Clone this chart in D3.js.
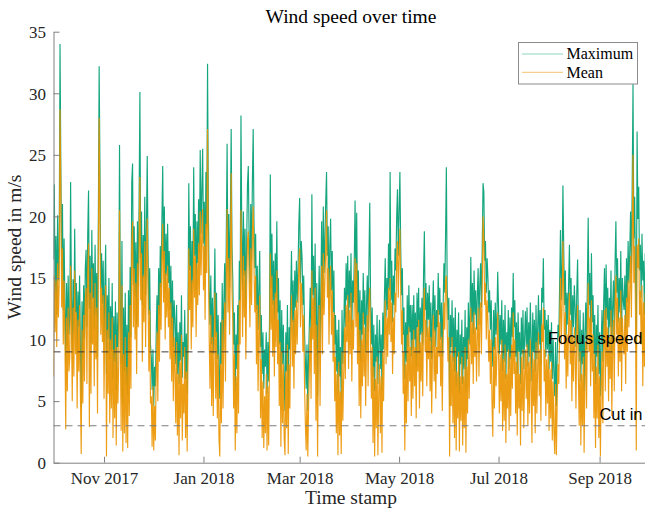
<!DOCTYPE html>
<html>
<head>
<meta charset="utf-8">
<script src="https://cdn.jsdelivr.net/npm/d3@7"></script>
<style>
  html, body { margin: 0; padding: 0; background: #fff; }
  svg { display: block; }
</style>
</head>
<body>
<svg id="chart" width="645" height="512"></svg>
<script>
// Wind speed, sampled every 12 hours from 1 Oct 2017 (m/s)
const seriesStart = "2017-10-01T00:00:00Z";
const stepHours = 12;

const maxSpeed = [
  16.5, 22.6, 13.2, 18.4, 12.0, 20.1, 14.8, 17.5, 34.0, 24.1, 15.6, 21.0, 12.4, 18.2, 13.0, 8.1, 14.6, 9.5, 15.2, 10.4,
  11.8, 22.8, 13.5, 9.2, 14.9, 10.6, 19.0, 12.2, 14.6, 8.8, 13.9, 11.0, 15.2, 9.6, 4.5, 13.1, 8.4, 14.4, 10.1, 15.8,
  17.3, 11.0, 18.6, 22.1, 12.5, 16.8, 9.7, 18.9, 13.3, 16.2, 10.8, 17.7, 12.0, 15.4, 8.6, 19.5, 32.2, 23.8, 14.1, 17.0,
  12.9, 16.4, 9.8, 14.2, 17.7, 7.2, 13.6, 10.1, 15.0, 8.4, 12.7, 9.0, 14.6, 6.8, 11.9, 8.2, 13.1, 5.9, 12.2, 9.4,
  11.6, 25.8, 13.4, 8.0, 18.0, 4.8, 12.6, 7.4, 13.8, 6.3, 11.2, 5.5, 14.0, 8.8, 15.9, 10.2, 22.8, 24.3, 14.4, 19.2,
  13.5, 17.9, 11.2, 19.6, 14.3, 21.0, 30.1, 16.6, 20.4, 12.8, 18.5, 15.0, 21.6, 13.6, 19.0, 24.9, 17.2, 12.0, 15.8, 9.6,
  8.6, 5.9, 9.2, 4.6, 7.8, 6.2, 10.4, 13.6, 9.5, 15.8, 12.0, 17.6, 14.2, 19.8, 24.1, 16.4, 20.8, 13.8, 18.6, 15.2,
  19.4, 14.6, 17.2, 12.4, 16.0, 10.8, 14.8, 9.4, 13.2, 11.6, 8.0, 12.8, 7.2, 10.6, 6.4, 11.4, 8.3, 13.6, 6.9, 9.8,
  8.6, 12.4, 6.8, 10.5, 5.6, 11.8, 22.7, 15.6, 19.2, 13.0, 18.0, 14.6, 24.0, 16.8, 20.2, 14.0, 19.6, 16.2, 21.4, 17.0,
  25.4, 18.6, 22.0, 25.5, 17.8, 21.2, 15.4, 23.6, 19.0, 32.4, 20.6, 14.0, 11.2, 15.2, 9.6, 13.4, 8.8, 12.6, 17.4, 10.2,
  13.8, 8.4, 12.0, 7.0, 5.2, 11.4, 8.0, 14.6, 9.2, 13.0, 16.2, 11.0, 18.4, 25.9, 15.6, 20.2, 14.2, 19.8, 27.1, 17.6,
  14.8, 9.6, 12.2, 5.8, 10.4, 7.6, 12.8, 9.0, 16.4, 13.2, 28.2, 18.8, 14.0, 20.4, 15.2, 19.0, 12.6, 17.8, 22.6, 24.1,
  18.2, 14.6, 21.0, 16.4, 22.8, 27.1, 19.4, 15.8, 18.6, 12.4, 16.0, 10.8, 14.2, 17.2, 9.4, 12.0, 7.2, 10.6, 6.0, 9.2,
  7.8, 10.6, 5.6, 9.8, 6.6, 11.4, 23.4, 14.2, 18.6, 12.8, 16.4, 11.6, 17.0, 13.4, 19.6, 12.2, 15.0, 9.6, 13.2, 6.0,
  12.4, 8.0, 11.2, 6.6, 4.2, 10.6, 7.4, 12.8, 4.4, 11.0, 9.2, 13.6, 17.2, 11.4, 14.8, 10.2, 15.6, 12.6, 16.4, 13.0,
  15.8, 19.4, 21.5, 14.6, 18.0, 16.6, 12.8, 15.2, 10.6, 8.4, 6.0, 9.6, 4.2, 8.8, 11.4, 14.2, 9.8, 21.8, 13.6, 16.8,
  11.2, 17.8, 8.6, 14.6, 5.4, 12.4, 16.0, 9.2, 14.0, 19.6, 12.6, 20.8, 15.4, 18.2, 21.2, 23.6, 16.8, 19.2, 13.4, 17.6,
  19.8, 14.0, 17.2, 12.2, 15.6, 9.6, 12.0, 7.4, 10.8, 5.6, 11.6, 7.0, 9.4, 4.8, 12.4, 8.0, 10.6, 14.2, 11.0, 16.2,
  13.2, 16.8, 11.4, 15.6, 12.6, 17.0, 10.8, 14.8, 13.0, 16.4, 21.3, 14.6, 20.3, 12.0, 15.6, 9.4, 14.0, 8.2, 13.2, 10.4,
  15.4, 11.2, 14.0, 9.0, 12.8, 15.2, 10.6, 16.4, 21.1, 13.4, 9.6, 12.6, 7.0, 11.2, 5.8, 10.4, 8.2, 12.0, 6.4, 9.6,
  11.6, 7.6, 10.4, 5.8, 12.2, 9.2, 13.4, 16.6, 11.8, 15.0, 12.4, 17.8, 14.0, 23.6, 13.2, 16.4, 11.4, 15.2, 12.8, 17.4,
  15.6, 19.8, 22.2, 16.8, 20.4, 23.6, 17.4, 13.6, 15.8, 10.4, 12.6, 6.8, 11.4, 8.2, 13.6, 9.4, 14.4, 10.6, 12.8, 8.6,
  12.8, 9.2, 13.6, 10.0, 12.2, 7.8, 13.8, 11.0, 14.2, 8.8, 12.6, 10.4, 13.4, 9.6, 15.2, 18.8, 12.4, 14.6, 10.2, 13.8,
  11.6, 14.4, 9.8, 13.0, 8.4, 12.2, 14.8, 10.6, 13.6, 9.4, 12.4, 11.0, 15.4, 12.0, 14.2, 10.0, 13.0, 8.6, 12.6, 16.2,
  13.8, 18.4, 24.0, 14.2, 11.6, 13.4, 4.6, 12.0, 9.4, 13.2, 8.2, 11.8, 7.4, 12.6, 6.2, 10.8, 8.6, 12.2, 5.6, 10.4,
  8.0, 11.6, 6.4, 10.2, 7.6, 12.4, 5.8, 11.0, 8.4, 13.0, 9.6, 12.2, 16.7, 11.4, 14.6, 10.4, 15.6, 12.0, 14.0, 10.8,
  13.6, 15.8, 11.2, 14.4, 16.2, 12.6, 17.4, 22.7, 22.0, 16.4, 18.0, 13.8, 16.6, 15.0, 12.2, 14.0, 10.8, 13.2, 9.6, 7.8,
  12.4, 9.2, 13.0, 10.4, 11.8, 15.5, 12.6, 8.8, 12.0, 9.6, 13.2, 7.4, 11.6, 8.2, 12.8, 6.8, 10.6, 9.0, 12.4, 7.6,
  11.8, 8.4, 12.6, 10.2, 15.4, 11.0, 13.2, 8.6, 11.4, 7.2, 12.2, 9.0, 10.6, 6.4, 11.8, 8.8, 12.4, 7.6, 10.2, 12.3,
  9.4, 12.6, 7.8, 11.4, 8.6, 13.0, 10.2, 6.6, 12.2, 9.0, 11.6, 7.4, 12.8, 8.4, 10.8, 13.6, 9.6, 12.4, 8.0, 14.2,
  13.0, 16.6, 10.8, 12.4, 8.6, 11.6, 9.2, 12.0, 7.6, 10.8, 8.2, 11.4, 6.8, 10.0, 7.2, 5.4, 9.8, 4.6, 8.8, 11.2,
  10.2, 14.6, 18.9, 13.2, 16.0, 22.5, 17.4, 12.8, 15.6, 10.4, 13.8, 11.2, 14.6, 17.7, 12.0, 15.0, 9.8, 13.6, 11.0, 14.4,
  12.6, 9.4, 13.8, 16.5, 11.0, 8.2, 12.4, 6.6, 10.8, 8.0, 12.2, 5.8, 10.4, 13.0, 9.2, 14.6, 19.9, 12.8, 15.4, 10.6,
  17.0, 11.4, 13.6, 8.8, 12.0, 6.4, 11.2, 8.6, 12.8, 7.2, 10.6, 5.4, 9.8, 12.4, 8.2, 13.0, 15.8, 10.4, 16.1, 11.6,
  14.2, 9.8, 13.4, 11.0, 15.6, 8.8, 12.6, 14.8, 10.2, 16.4, 19.6, 13.8, 16.6, 11.4, 15.0, 12.2, 17.2, 10.6, 15.0, 13.2,
  12.4, 15.2, 10.8, 16.6, 13.0, 18.0, 14.6, 17.2, 20.4, 15.4, 22.4, 30.8, 18.2, 21.6, 16.0, 9.4, 26.9, 19.8, 22.4, 15.6,
  17.7, 13.4, 18.6, 14.8, 16.4, 12.0, 17.0, 13.6, 15.8, 12.6
];

const meanSpeed = [
  7.0, 15.2, 10.6, 14.8, 9.4, 16.2, 11.8, 14.6, 28.7, 22.0, 12.6, 17.4, 9.6, 14.8, 10.2, 2.7, 11.8, 5.8, 12.6, 7.4,
  8.6, 16.0, 11.2, 5.0, 12.6, 7.0, 15.6, 8.8, 12.2, 4.4, 11.6, 7.4, 12.8, 5.6, 0.7, 10.8, 4.8, 12.0, 6.6, 13.2,
  14.2, 6.4, 15.4, 17.8, 2.9, 13.8, 5.6, 15.8, 9.6, 13.4, 6.2, 14.6, 8.4, 12.6, 4.0, 16.4, 28.0, 19.6, 10.4, 14.2,
  9.8, 13.6, 5.2, 11.6, 14.4, 0.5, 10.8, 5.6, 12.2, 3.2, 10.0, 4.4, 11.8, 2.0, 9.2, 3.6, 10.4, 1.4, 9.4, 4.8,
  8.0, 20.5, 9.8, 2.6, 14.4, 0.9, 8.8, 2.4, 10.2, 1.6, 7.8, 1.2, 10.6, 3.8, 12.8, 6.0, 17.6, 19.6, 11.0, 15.8,
  10.0, 14.6, 7.2, 16.2, 11.0, 17.6, 23.2, 13.2, 17.0, 8.2, 15.2, 11.4, 18.0, 9.4, 15.8, 19.8, 13.8, 7.4, 12.4, 4.8,
  5.4, 1.3, 6.2, 1.0, 4.6, 1.8, 7.4, 10.6, 5.0, 12.8, 8.2, 14.6, 10.8, 16.6, 19.4, 13.0, 17.2, 10.0, 15.4, 11.8,
  16.0, 11.0, 14.2, 8.4, 13.0, 6.6, 11.8, 5.0, 10.2, 7.4, 3.2, 9.8, 2.2, 7.2, 0.6, 8.2, 3.6, 10.4, 1.8, 6.4,
  4.0, 9.4, 2.0, 7.4, 0.9, 8.6, 17.4, 12.4, 16.0, 9.2, 14.8, 11.0, 19.0, 13.4, 16.8, 10.2, 16.2, 12.8, 17.8, 13.6,
  20.4, 15.2, 18.4, 20.6, 14.0, 17.6, 11.6, 19.4, 15.4, 27.1, 16.8, 10.2, 6.0, 12.0, 4.6, 10.2, 3.8, 9.4, 13.8, 5.2,
  10.6, 3.6, 8.8, 2.0, 0.5, 8.0, 3.2, 11.6, 4.4, 9.8, 13.0, 6.6, 15.0, 20.6, 12.2, 16.6, 10.4, 16.2, 23.5, 14.0,
  11.4, 4.4, 8.8, 1.0, 7.0, 2.4, 9.6, 4.0, 13.2, 9.6, 20.5, 15.4, 10.2, 16.8, 11.8, 15.6, 8.4, 14.4, 18.0, 18.8,
  15.0, 11.0, 17.4, 12.8, 18.6, 20.8, 15.8, 12.2, 15.2, 8.0, 12.8, 5.8, 10.8, 13.6, 3.6, 8.4, 2.0, 6.6, 1.2, 5.4,
  2.4, 7.2, 1.0, 6.2, 1.4, 8.2, 17.0, 10.8, 15.2, 8.6, 13.2, 7.0, 13.8, 9.4, 15.6, 8.0, 11.6, 4.6, 9.8, 1.3,
  9.0, 3.2, 8.0, 2.0, 0.6, 7.4, 2.8, 9.6, 0.7, 8.0, 4.4, 10.4, 13.6, 7.8, 11.6, 6.0, 12.4, 8.8, 13.2, 9.6,
  12.6, 16.0, 17.4, 11.0, 14.6, 13.2, 9.0, 12.0, 6.2, 3.2, 1.0, 5.6, 0.5, 4.6, 8.0, 11.0, 5.2, 15.6, 10.0, 13.4,
  7.2, 14.2, 3.4, 11.2, 0.5, 8.8, 12.8, 4.6, 10.8, 16.0, 8.8, 17.0, 12.0, 14.8, 17.4, 20.5, 13.4, 15.8, 9.6, 14.2,
  16.0, 10.4, 14.0, 8.2, 12.2, 5.0, 8.6, 2.4, 7.2, 0.6, 8.2, 2.2, 5.8, 0.7, 9.0, 3.4, 7.0, 11.0, 6.8, 12.8,
  9.8, 13.6, 7.6, 12.4, 8.8, 13.8, 6.6, 11.6, 9.2, 13.0, 16.6, 11.0, 16.2, 8.0, 12.2, 4.6, 10.8, 3.6, 10.0, 6.2,
  12.2, 7.0, 11.0, 4.6, 9.6, 12.0, 6.2, 13.0, 14.2, 10.0, 5.2, 9.4, 1.6, 7.8, 0.5, 6.8, 2.8, 8.6, 0.6, 5.6,
  8.0, 2.4, 7.0, 0.8, 9.0, 5.0, 10.2, 13.2, 8.0, 11.8, 8.6, 14.2, 10.4, 15.0, 9.8, 13.0, 7.2, 11.8, 8.8, 13.8,
  12.2, 16.2, 18.0, 13.4, 16.8, 19.0, 14.0, 9.6, 12.4, 5.6, 9.0, 1.0, 8.0, 3.2, 10.4, 5.0, 11.0, 6.6, 9.4, 3.8,
  10.0, 5.2, 10.8, 6.2, 9.4, 3.6, 11.0, 7.4, 11.6, 4.4, 9.8, 6.6, 10.6, 5.4, 12.0, 14.2, 9.0, 11.6, 6.2, 11.0,
  8.4, 11.6, 5.8, 10.2, 4.0, 9.2, 12.0, 6.6, 10.8, 5.2, 9.4, 7.2, 12.4, 8.6, 11.4, 6.2, 10.2, 4.2, 9.6, 13.0,
  10.8, 14.8, 15.2, 11.0, 8.2, 10.2, 0.5, 8.8, 4.6, 10.2, 3.2, 8.6, 2.0, 9.4, 1.0, 7.4, 3.6, 9.0, 0.9, 7.0,
  3.4, 8.6, 1.4, 7.0, 2.8, 9.4, 0.8, 7.8, 4.0, 10.0, 5.2, 9.0, 12.6, 8.0, 11.4, 6.4, 12.2, 8.6, 11.0, 6.6,
  10.2, 12.6, 7.0, 11.4, 13.0, 8.8, 14.2, 20.0, 18.0, 12.8, 14.6, 10.0, 13.2, 11.6, 8.2, 10.8, 6.4, 10.0, 4.8, 2.1,
  9.4, 4.4, 10.2, 6.2, 8.8, 12.2, 9.0, 4.0, 8.8, 5.0, 10.0, 2.6, 8.4, 3.4, 9.6, 1.6, 7.2, 4.4, 9.2, 2.6,
  8.6, 3.8, 9.6, 6.0, 12.2, 7.2, 10.0, 4.0, 8.2, 2.2, 9.0, 4.4, 7.2, 1.4, 8.6, 4.2, 9.2, 2.8, 7.0, 9.2,
  5.2, 9.6, 3.0, 8.2, 4.0, 10.0, 6.4, 1.6, 9.0, 4.6, 8.4, 2.4, 9.8, 4.0, 7.6, 10.6, 5.4, 9.2, 3.4, 11.2,
  9.8, 12.6, 6.6, 9.2, 3.8, 8.4, 4.8, 8.8, 2.6, 7.6, 3.6, 8.2, 1.8, 6.6, 2.4, 0.7, 6.4, 0.6, 5.0, 8.0,
  6.4, 11.2, 15.0, 9.6, 12.8, 18.0, 13.8, 8.4, 12.2, 6.0, 10.4, 7.0, 11.2, 13.8, 8.0, 11.6, 5.0, 10.2, 6.6, 11.0,
  9.0, 4.4, 10.4, 12.8, 6.8, 3.0, 9.0, 1.4, 7.2, 3.0, 8.6, 0.8, 6.8, 9.8, 4.4, 11.2, 14.6, 9.0, 11.8, 6.2,
  13.2, 7.4, 10.4, 3.6, 8.8, 1.2, 7.8, 3.6, 9.6, 2.0, 7.0, 0.5, 6.2, 9.0, 3.2, 10.0, 12.4, 5.8, 12.6, 7.8,
  11.0, 5.0, 10.2, 6.8, 12.4, 3.8, 9.4, 11.6, 5.8, 13.0, 15.2, 10.4, 13.4, 7.0, 11.8, 8.2, 14.0, 5.8, 11.8, 9.6,
  8.8, 12.0, 6.4, 13.4, 9.0, 14.8, 11.0, 14.0, 16.8, 11.8, 18.2, 25.0, 14.6, 17.6, 12.4, 1.0, 17.7, 15.8, 18.2, 12.0,
  14.0, 9.6, 14.4, 6.2, 13.0, 7.8, 13.8, 9.4, 12.6, 8.2
];

// Reference speeds drawn as dashed lines
const refNames = ["Focus speed", "Cut in"];
const refValues = [9, 3];

// Axis ticks
const xTickDates = ["2017-11-01", "2018-01-01", "2018-03-01", "2018-05-01", "2018-07-01", "2018-09-01"];
const yTickValues = [0, 5, 10, 15, 20, 25, 30, 35];

const seriesNames = ["Maximum", "Mean"];
const seriesColors = ["#009E73", "#EB9500"];

// ---- layout ----
const svg = d3.select("#chart");
const plotLeft = 53.5, plotRight = 648.5, plotTop = 31.7, plotBottom = 462.7;
const serif = "'Liberation Serif', 'Times New Roman', serif";
const sans = "'Liberation Sans', Arial, sans-serif";

const t0 = new Date(seriesStart);
const times = maxSpeed.map((_, i) => new Date(t0.getTime() + i * stepHours * 3600e3));

const x = d3.scaleUtc()
  .domain([new Date("2017-10-01T00:00:00Z"), new Date("2018-10-01T00:00:00Z")])
  .range([plotLeft, plotRight]);
const y = d3.scaleLinear().domain([0, 35]).range([plotBottom, plotTop]);

svg.append("defs").append("clipPath").attr("id", "plotClip")
  .append("rect").attr("x", plotLeft).attr("y", plotTop - 2)
  .attr("width", plotRight - plotLeft).attr("height", plotBottom - plotTop + 2);

const plot = svg.append("g").attr("clip-path", "url(#plotClip)");

const line = d3.line().x((d, i) => x(times[i])).y(d => y(d));

[maxSpeed, meanSpeed].forEach((vals, k) => {
  plot.append("path")
    .datum(vals)
    .attr("fill", "none")
    .attr("stroke", seriesColors[k])
    .attr("stroke-width", 1.15)
    .attr("stroke-opacity", 0.92)
    .attr("stroke-linejoin", "miter")
    .attr("d", line);
});

// dashed reference lines
const refColors = ["#3c3c3c", "#7d7d7d"];
refValues.forEach((v, i) => {
  svg.append("line")
    .attr("x1", plotLeft).attr("x2", plotRight)
    .attr("y1", y(v)).attr("y2", y(v))
    .attr("stroke", refColors[i])
    .attr("stroke-width", 1)
    .attr("stroke-dasharray", "7,5");
});
const refBaselines = [-7.5, -6];
refNames.forEach((name, i) => {
  svg.append("text")
    .attr("x", 642.5).attr("y", y(refValues[i]) + refBaselines[i])
    .attr("text-anchor", "end")
    .attr("font-family", sans)
    .attr("font-size", 16.5)
    .attr("fill", "#000")
    .text(name);
});

// axes
const xAxis = d3.axisBottom(x)
  .tickValues(xTickDates.map(s => new Date(s + "T00:00:00Z")))
  .tickFormat(d3.utcFormat("%b %Y"))
  .tickSizeInner(-6).tickSizeOuter(0).tickPadding(0);
const gx = svg.append("g").attr("transform", `translate(0,${plotBottom})`).call(xAxis);
gx.select(".domain").attr("stroke", "#808080");
gx.selectAll(".tick line").attr("stroke", "#808080");
gx.selectAll(".tick text")
  .attr("y", 21).attr("dy", 0)
  .attr("font-family", serif).attr("font-size", 17).attr("fill", "#262626");

const yAxis = d3.axisLeft(y)
  .tickValues(yTickValues)
  .tickFormat(d3.format("d"))
  .tickSizeInner(-6).tickSizeOuter(0).tickPadding(8);
const gy = svg.append("g").attr("transform", `translate(${plotLeft},0)`).call(yAxis);
gy.select(".domain").attr("stroke", "#808080");
gy.selectAll(".tick line").attr("stroke", "#808080");
gy.selectAll(".tick text")
  .attr("x", -7.5).attr("dy", "0.34em")
  .attr("font-family", serif).attr("font-size", 17).attr("fill", "#262626");

// titles
svg.append("text")
  .attr("x", 351).attr("y", 23)
  .attr("text-anchor", "middle")
  .attr("font-family", serif).attr("font-size", 19.5).attr("fill", "#000")
  .text("Wind speed over time");

svg.append("text")
  .attr("x", 351).attr("y", 504)
  .attr("text-anchor", "middle")
  .attr("font-family", serif).attr("font-size", 19.5).attr("fill", "#262626")
  .text("Time stamp");

svg.append("text")
  .attr("transform", "translate(21,247) rotate(-90)")
  .attr("text-anchor", "middle")
  .attr("font-family", serif).attr("font-size", 19.5).attr("fill", "#262626")
  .text("Wind speed in m/s");

// legend
const legend = svg.append("g");
legend.append("rect")
  .attr("x", 518.5).attr("y", 42.5).attr("width", 119).attr("height", 41.5)
  .attr("fill", "#fff").attr("stroke", "#8c8c8c").attr("stroke-width", 1);
seriesNames.forEach((name, i) => {
  const ly = 54 + i * 18.3;
  legend.append("line")
    .attr("x1", 522).attr("x2", 563).attr("y1", ly).attr("y2", ly)
    .attr("stroke", seriesColors[i]).attr("stroke-opacity", 0.45).attr("stroke-width", 1.2);
  legend.append("text")
    .attr("x", 566.5).attr("y", ly).attr("dy", "0.34em")
    .attr("font-family", serif).attr("font-size", 16).attr("fill", "#000")
    .text(name);
});
</script>
</body>
</html>
